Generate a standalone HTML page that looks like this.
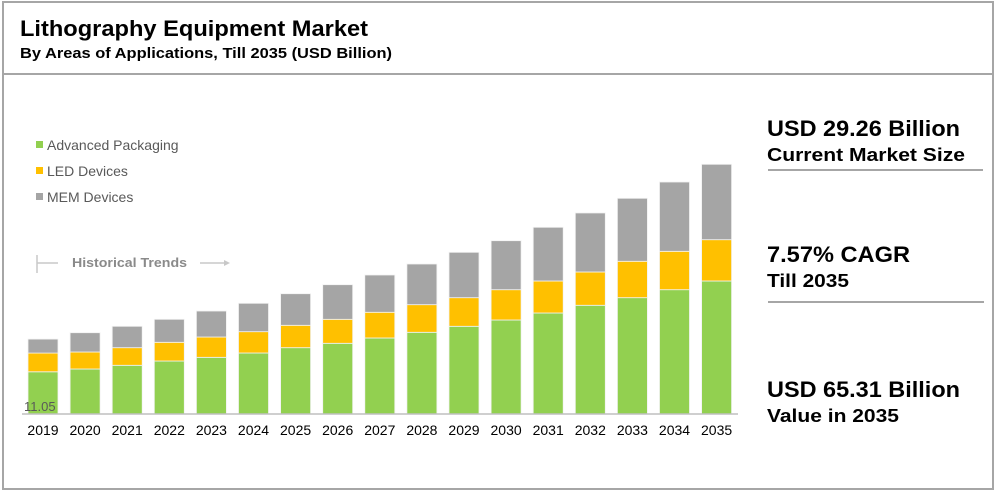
<!DOCTYPE html>
<html><head><meta charset="utf-8"><style>
body{margin:0;background:#fff;font-family:"Liberation Sans",Arial,sans-serif}
#wrap{position:relative;width:1000px;height:492px;overflow:hidden;background:#fff}
</style></head><body>
<div id="wrap">
<svg width="1000" height="492" style="position:absolute;left:0;top:0" id="svg" font-family="Liberation Sans, sans-serif">
<rect x="3" y="2" width="990" height="487" fill="none" stroke="#a6a6a6" stroke-width="2"/>
<line x1="3" y1="74" x2="993" y2="74" stroke="#a6a6a6" stroke-width="2"/>
<text x="20" y="36" font-size="22" font-weight="bold" textLength="348" lengthAdjust="spacingAndGlyphs">Lithography Equipment Market</text>
<text x="20" y="58" font-size="15" font-weight="bold" textLength="372" lengthAdjust="spacingAndGlyphs">By Areas of Applications, Till 2035 (USD Billion)</text>
<g>
<rect x="36" y="141" width="7" height="7" fill="#92D050"/>
<text x="47" y="150" font-size="14" fill="#595959">Advanced Packaging</text>
<rect x="36" y="167" width="7" height="7" fill="#FFC000"/>
<text x="47" y="176" font-size="14" fill="#595959">LED Devices</text>
<rect x="36" y="193" width="7" height="7" fill="#A5A5A5"/>
<text x="47" y="202" font-size="14" fill="#595959">MEM Devices</text>
</g>
<g>
<line x1="37" y1="255" x2="37" y2="273" stroke="#c8c8c8" stroke-width="1.5"/>
<line x1="37" y1="263" x2="58" y2="263" stroke="#c8c8c8" stroke-width="1.5"/>
<text x="72" y="267" font-size="13" font-weight="bold" fill="#8a8a8a" textLength="115" lengthAdjust="spacingAndGlyphs">Historical Trends</text>
<line x1="200" y1="263" x2="226" y2="263" stroke="#c8c8c8" stroke-width="1.5"/>
<path d="M224 260 L230 263 L224 266Z" fill="#c8c8c8"/>
</g>
<g id="bars"></g>
<line x1="22" y1="414" x2="738" y2="414" stroke="#bfbfbf" stroke-width="1.5"/>
<g id="xlabels"></g>
<text x="24" y="411" font-size="13" fill="#595959">11.05</text>
<g>
<text x="767" y="136" font-size="22" font-weight="bold" textLength="193" lengthAdjust="spacingAndGlyphs">USD 29.26 Billion</text>
<text x="767" y="161" font-size="18" font-weight="bold" textLength="198" lengthAdjust="spacingAndGlyphs">Current Market Size</text>
<line x1="768" y1="170" x2="983" y2="170" stroke="#a6a6a6" stroke-width="2"/>
<text x="767" y="262" font-size="22" font-weight="bold" textLength="143" lengthAdjust="spacingAndGlyphs">7.57% CAGR</text>
<text x="767" y="287" font-size="18" font-weight="bold" textLength="82" lengthAdjust="spacingAndGlyphs">Till 2035</text>
<line x1="768" y1="302" x2="984" y2="302" stroke="#a6a6a6" stroke-width="2"/>
<text x="767" y="397" font-size="22" font-weight="bold" textLength="193" lengthAdjust="spacingAndGlyphs">USD 65.31 Billion</text>
<text x="767" y="422" font-size="18" font-weight="bold" textLength="132" lengthAdjust="spacingAndGlyphs">Value in 2035</text>
</g>
</svg>
</div>
<script>
const years=["2019","2020","2021","2022","2023","2024","2025","2026","2027","2028","2029","2030","2031","2032","2033","2034","2035"];
const advancedPackaging=[11.05,11.78,12.75,13.87,14.84,15.97,17.36,18.51,19.9,21.39,22.96,24.61,26.44,28.46,30.45,32.54,34.82];
const ledDevices=[4.9,4.45,4.61,4.9,5.31,5.58,5.86,6.28,6.73,7.23,7.49,7.93,8.38,8.72,9.53,10.05,10.81];
const memDevices=[3.66,5.05,5.6,6.02,6.81,7.43,8.27,9.06,9.76,10.65,11.88,12.83,14.06,15.45,16.49,18.14,19.74];
const NS="http://www.w3.org/2000/svg";
const base=414,pxPer=3.82,x0=43,step=42.1,bw=30;
function xC(i){return x0+i*step;}
function yH(v){return v*pxPer;}
const g=document.getElementById('bars'),xl=document.getElementById('xlabels');
const series=[[advancedPackaging,'#92D050','advanced-packaging'],[ledDevices,'#FFC000','led-devices'],[memDevices,'#A5A5A5','mem-devices']];
years.forEach((yr,i)=>{
  let acc=0;
  series.forEach(([arr,col,nm])=>{
    const h=yH(arr[i]);
    const r=document.createElementNS(NS,'rect');
    r.setAttribute('x',xC(i)-bw/2);
    r.setAttribute('y',base-yH(acc)-h);
    r.setAttribute('width',bw);
    r.setAttribute('height',h);
    r.setAttribute('fill',col);
    r.setAttribute('stroke','#f2f2f2');
    r.setAttribute('stroke-width','0.8');
    
    
    g.appendChild(r);
    acc+=arr[i];
  });
  const t=document.createElementNS(NS,'text');
  t.setAttribute('x',xC(i));
  t.setAttribute('y',435);
  t.setAttribute('text-anchor','middle');
  t.setAttribute('font-size','14');
  t.textContent=yr;
  
  
  xl.appendChild(t);
});
</script>
</body></html>
